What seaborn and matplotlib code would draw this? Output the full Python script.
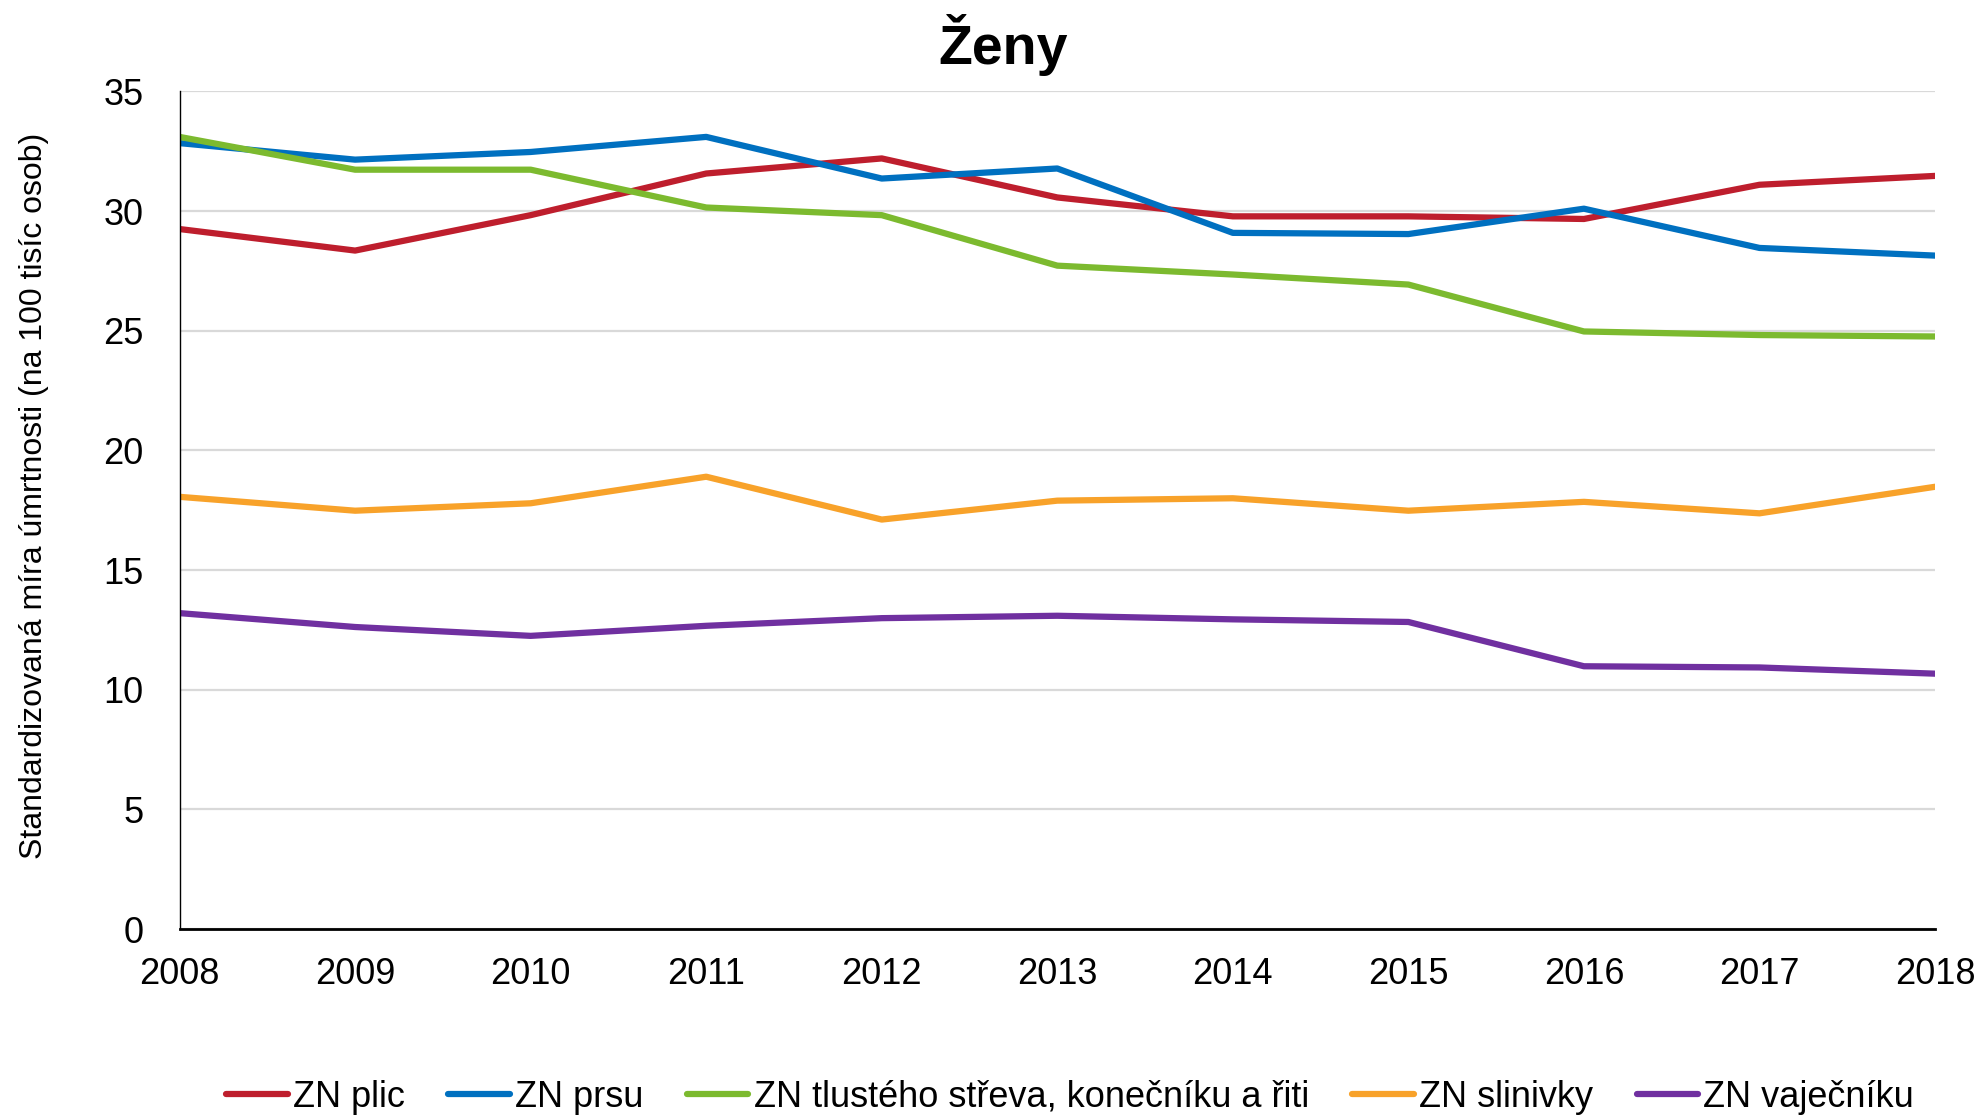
import matplotlib
matplotlib.use("Agg")
import matplotlib.pyplot as plt
import seaborn as sns
import pandas as pd

years = [2008, 2009, 2010, 2011, 2012, 2013, 2014, 2015, 2016, 2017, 2018]
zn_plic = [29.25, 28.35, 29.83, 31.57, 32.2, 30.57, 29.78, 29.78, 29.67, 31.1, 31.47]
zn_prsu = [32.84, 32.15, 32.47, 33.1, 31.36, 31.78, 29.09, 29.04, 30.1, 28.46, 28.14]
zn_streva = [33.1, 31.73, 31.73, 30.15, 29.83, 27.72, 27.35, 26.93, 24.97, 24.82, 24.76]
zn_slinivky = [18.06, 17.48, 17.79, 18.9, 17.11, 17.9, 18.0, 17.48, 17.85, 17.37, 18.48]
zn_vajecniku = [13.2, 12.62, 12.25, 12.67, 12.99, 13.09, 12.94, 12.83, 10.98, 10.93, 10.67]

series_names = ["ZN plic", "ZN prsu", "ZN tlustého střeva, konečníku a řiti",
                "ZN slinivky", "ZN vaječníku"]
series_values = [zn_plic, zn_prsu, zn_streva, zn_slinivky, zn_vajecniku]
colors = ["#BE1E2D", "#0070C0", "#7CBA2F", "#F8A22A", "#7030A0"]

rows = []
for name, vals in zip(series_names, series_values):
    for y, v in zip(years, vals):
        rows.append({"Rok": y, "Hodnota": v, "Série": name})
df = pd.DataFrame(rows)

sns.set_theme(style="white")
plt.rcParams['font.family'] = ['Liberation Sans', 'DejaVu Sans']
plt.rcParams['text.color'] = 'black'
plt.rcParams['axes.labelcolor'] = 'black'
plt.rcParams['xtick.color'] = 'black'
plt.rcParams['ytick.color'] = 'black'

fig = plt.figure(figsize=(19.82, 11.15), dpi=100)
ax = fig.add_axes([0.0906, 0.1668, 0.9763 - 0.0906, 0.918 - 0.1668])

sns.lineplot(data=df, x="Rok", y="Hodnota", hue="Série", hue_order=series_names,
             palette=colors, linewidth=4.5, ax=ax, legend=True)

ax.set_xlim(2008, 2018)
ax.set_ylim(0, 35)
ax.set_xticks(years)
ax.set_xticklabels([str(y) for y in years])
ax.set_yticks(range(0, 36, 5))
ax.yaxis.grid(True, color="#D9D9D9", linewidth=1.6)
ax.xaxis.grid(False)
ax.set_axisbelow(True)
for s in ["top", "right"]:
    ax.spines[s].set_visible(False)
ax.spines["left"].set_color("black")
ax.spines["left"].set_linewidth(1.0)
ax.spines["bottom"].set_color("black")
ax.spines["bottom"].set_linewidth(2.0)
ax.tick_params(axis="x", which="both", direction="out", length=10, width=1.2,
               color="black", labelsize=26, pad=10)
ax.tick_params(axis="y", length=0, labelsize=26, pad=26)
ax.set_xlabel("")
ax.set_ylabel("Standardizovaná míra úmrtnosti (na 100 tisíc osob)", fontsize=23)
ax.yaxis.set_label_coords(-0.0746, 0.517)
ax.set_title("Ženy", fontsize=40, fontweight="bold", x=0.469, pad=20)

handles, labels = ax.get_legend_handles_labels()
ax.legend_.remove()
fig.legend(handles, labels, loc="lower center", bbox_to_anchor=(0.54, -0.029), ncol=5,
           frameon=False, fontsize=26, handlelength=1.7, handletextpad=0.15,
           columnspacing=1.2)

fig.savefig("out.png", dpi=100)
